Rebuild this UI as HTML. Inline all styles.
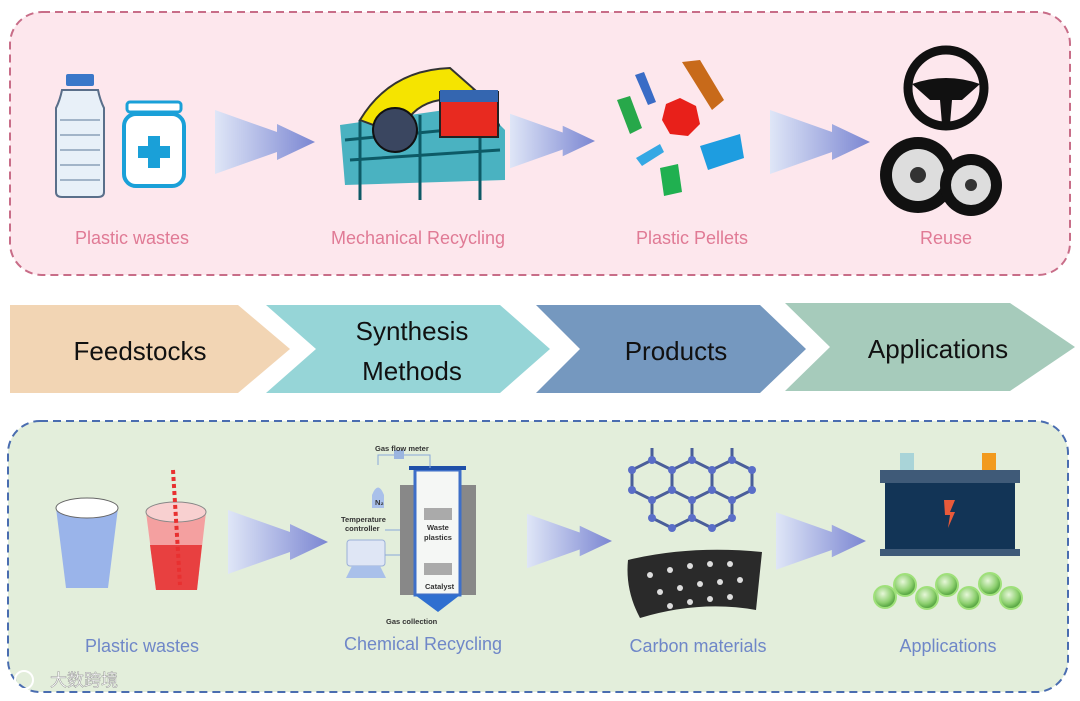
<!DOCTYPE html>
<html><head><meta charset="utf-8"><style>
html,body{margin:0;padding:0;background:#fff;width:1080px;height:701px;overflow:hidden}
svg{display:block}
text{font-family:"Liberation Sans","Noto Sans CJK SC",sans-serif}
</style></head><body>
<svg width="1080" height="701" viewBox="0 0 1080 701" xmlns="http://www.w3.org/2000/svg">
<defs>
<linearGradient id="ag" x1="0" x2="1" y1="0" y2="0"><stop offset="0" stop-color="#dfe6f7"/><stop offset="1" stop-color="#7b86d2"/></linearGradient>
<radialGradient id="ball" cx="0.4" cy="0.35" r="0.6"><stop offset="0" stop-color="#e6f7d8"/><stop offset="0.7" stop-color="#8ccf6e"/><stop offset="1" stop-color="#5aa845"/></radialGradient>
<symbol id="arr" viewBox="0 0 100 64"><path d="M0 0 L62 22 L62 14 L100 32 L62 50 L62 42 L0 64 Z" fill="url(#ag)"/></symbol>
</defs>
<rect x="10" y="12" width="1060" height="263" rx="32" fill="#fde7ed" stroke="#c86d88" stroke-width="2" stroke-dasharray="8,5"/>
<rect x="66" y="74" width="28" height="12" rx="2" fill="#3a78c9"/>
<path d="M62 90 Q60 100 56 108 L56 192 Q56 197 62 197 L98 197 Q104 197 104 192 L104 108 Q100 100 98 90 Z" fill="#e8f0f8" stroke="#5a6f8a" stroke-width="2"/>
<g stroke="#8aa0b8" stroke-width="1.5"><line x1="60" y1="120" x2="100" y2="120"/><line x1="60" y1="135" x2="100" y2="135"/><line x1="60" y1="150" x2="100" y2="150"/><line x1="60" y1="165" x2="100" y2="165"/><line x1="60" y1="180" x2="100" y2="180"/></g>
<rect x="127" y="102" width="54" height="10" rx="3" fill="#fff" stroke="#1aa0d8" stroke-width="3"/>
<rect x="124" y="114" width="60" height="72" rx="12" fill="#fff" stroke="#1aa0d8" stroke-width="4"/>
<path d="M148 136h12v10h10v12h-10v10h-12v-10h-10v-12h10z" fill="#1aa0d8"/>
<text x="132" y="244" font-size="18" fill="#e07a95" text-anchor="middle">Plastic wastes</text>
<use href="#arr" x="215" y="110" width="100" height="64"/>
<g>
<path d="M340 125 L480 105 L505 130 L505 180 L345 185 Z" fill="#2aa8b8" opacity="0.85"/>
<path d="M345 140 L500 125 M350 160 L500 150 M360 120 L360 200 M420 115 L420 200 M480 110 L480 200" stroke="#0d5a66" stroke-width="3" fill="none"/>
<path d="M360 120 Q390 70 450 68 L475 90 L440 100 Q410 105 400 135 Z" fill="#f5e400" stroke="#333" stroke-width="2"/>
<rect x="440" y="92" width="58" height="45" fill="#e82a20" stroke="#222" stroke-width="2"/>
<rect x="440" y="90" width="58" height="12" fill="#3466b0"/>
<circle cx="395" cy="130" r="22" fill="#3a4660" stroke="#111" stroke-width="2"/>
<text x="418" y="244" font-size="18" fill="#e07a95" text-anchor="middle">Mechanical Recycling</text>
</g>
<use href="#arr" x="510" y="112" width="85" height="58"/>
<polygon points="635,75 644,72 656,102 648,105" fill="#3a6cc6"/>
<polygon points="682,62 700,60 724,100 712,110" fill="#c86a1a"/>
<polygon points="617,100 630,96 642,128 630,134" fill="#27a84a"/>
<polygon points="666,104 680,98 696,106 700,124 688,136 670,134 662,120" fill="#e8201a"/>
<polygon points="636,158 660,144 664,152 642,166" fill="#35a8e4"/>
<polygon points="700,146 740,134 744,158 708,170" fill="#1e9de0"/>
<polygon points="660,168 678,164 682,192 664,196" fill="#20b050"/>
<text x="692" y="244" font-size="18" fill="#e07a95" text-anchor="middle">Plastic Pellets</text>
<use href="#arr" x="770" y="110" width="100" height="64"/>
<circle cx="946" cy="88" r="38" fill="none" stroke="#111" stroke-width="9"/>
<path d="M912 84 Q946 72 980 84 L962 100 L952 100 L950 124 L942 124 L940 100 L930 100 Z" fill="#111"/>
<circle cx="918" cy="175" r="38" fill="#111"/><circle cx="918" cy="175" r="26" fill="#ddd"/><circle cx="918" cy="175" r="8" fill="#333"/>
<circle cx="971" cy="185" r="31" fill="#111"/><circle cx="971" cy="185" r="20" fill="#ddd"/><circle cx="971" cy="185" r="6" fill="#333"/>
<text x="946" y="244" font-size="18" fill="#e07a95" text-anchor="middle">Reuse</text>
<polygon points="10,305 238,305 290,349 238,393 10,393" fill="#f2d5b4"/>
<polygon points="266,305 500,305 550,349 500,393 266,393 316,349" fill="#96d5d7"/>
<polygon points="536,305 760,305 806,349 760,393 536,393 580,349" fill="#7598bf"/>
<polygon points="785,303 1010,303 1075,347 1010,391 785,391 830,347" fill="#a6cbbb"/>
<g font-size="26" fill="#111" text-anchor="middle">
<text x="140" y="360">Feedstocks</text>
<text x="412" y="340">Synthesis</text>
<text x="412" y="380">Methods</text>
<text x="676" y="360">Products</text>
<text x="938" y="358">Applications</text>
</g>
<rect x="8" y="421" width="1060" height="271" rx="32" fill="#e3eedb" stroke="#4a6db0" stroke-width="2" stroke-dasharray="8,5"/>
<path d="M56 508 L118 508 L108 588 L66 588 Z" fill="#9ab4ea"/>
<ellipse cx="87" cy="508" rx="31" ry="10" fill="#fff" stroke="#666" stroke-width="1"/>
<path d="M146 512 L206 512 L197 590 L156 590 Z" fill="#f4a0a0"/>
<path d="M150 545 L202 545 L197 590 L156 590 Z" fill="#e84040"/>
<ellipse cx="176" cy="512" rx="30" ry="10" fill="#f8d0d0" stroke="#888"/>
<line x1="173" y1="470" x2="180" y2="585" stroke="#e83030" stroke-width="4" stroke-dasharray="4,3"/>
<text x="142" y="652" font-size="18" fill="#6f87c8" text-anchor="middle">Plastic wastes</text>
<use href="#arr" x="228" y="510" width="100" height="64"/>
<g>
<rect x="400" y="485" width="16" height="110" fill="#888"/><rect x="460" y="485" width="16" height="110" fill="#888"/>
<rect x="415" y="470" width="45" height="125" fill="#f5f7f5" stroke="#3e6fc8" stroke-width="3"/>
<line x1="409" y1="468" x2="466" y2="468" stroke="#1f4fa8" stroke-width="4"/>
<polygon points="415,595 460,595 438,612" fill="#2f6fd0"/>
<rect x="424" y="508" width="28" height="12" fill="#aaa"/><rect x="424" y="563" width="28" height="12" fill="#aaa"/>
<path d="M378 465 L378 455 L430 455 L430 468" stroke="#8aa8d8" fill="none"/><rect x="394" y="450" width="10" height="9" fill="#9bb5e0"/>
<path d="M372 495 Q378 480 384 495 L384 508 L372 508 Z" fill="#a9c0ea"/>
<rect x="347" y="540" width="38" height="26" rx="3" fill="#dfe6f5" stroke="#9bb0d8"/>
<path d="M352 566 L380 566 L386 578 L346 578 Z" fill="#a9c0ea"/>
<line x1="385" y1="530" x2="400" y2="530" stroke="#8aa8d8"/><line x1="385" y1="555" x2="400" y2="555" stroke="#8aa8d8"/>
<g font-size="7.5" font-weight="bold" fill="#333">
<text x="375" y="451">Gas flow meter</text><text x="375" y="505">N₂</text>
<text x="341" y="522">Temperature</text><text x="345" y="531">controller</text>
<text x="427" y="530">Waste</text><text x="424" y="540">plastics</text>
<text x="425" y="589">Catalyst</text><text x="386" y="624">Gas collection</text>
</g>
<text x="423" y="650" font-size="18" fill="#6f87c8" text-anchor="middle">Chemical Recycling</text>
</g>
<use href="#arr" x="527" y="512" width="85" height="58"/>
<g stroke="#4a5e9a" stroke-width="3" fill="none">
<path d="M632 470 L652 460 L672 470 L692 460 L712 470 L732 460 L752 470 M632 470 L632 490 L652 500 L672 490 L692 500 L712 490 L732 500 L752 490 L752 470 M672 470 L672 490 M712 470 L712 490 M652 500 L652 518 L672 528 L692 518 L712 528 L732 518 L732 500 M692 500 L692 518 M652 460 L652 448 M692 460 L692 448 M732 460 L732 448"/>
</g>
<g fill="#5a6ec8"><circle cx="632" cy="470" r="4"/><circle cx="652" cy="460" r="4"/><circle cx="672" cy="470" r="4"/><circle cx="692" cy="460" r="4"/><circle cx="712" cy="470" r="4"/><circle cx="732" cy="460" r="4"/><circle cx="752" cy="470" r="4"/><circle cx="632" cy="490" r="4"/><circle cx="652" cy="500" r="4"/><circle cx="672" cy="490" r="4"/><circle cx="692" cy="500" r="4"/><circle cx="712" cy="490" r="4"/><circle cx="732" cy="500" r="4"/><circle cx="752" cy="490" r="4"/><circle cx="652" cy="518" r="4"/><circle cx="672" cy="528" r="4"/><circle cx="692" cy="518" r="4"/><circle cx="712" cy="528" r="4"/><circle cx="732" cy="518" r="4"/></g>
<path d="M628 560 Q690 545 762 552 L756 610 Q700 600 640 618 Q625 590 628 560 Z" fill="#2a2a2a"/>
<g fill="#ddd"><circle cx="650" cy="575" r="3"/><circle cx="670" cy="570" r="3"/><circle cx="690" cy="566" r="3"/><circle cx="710" cy="564" r="3"/><circle cx="730" cy="564" r="3"/><circle cx="660" cy="592" r="3"/><circle cx="680" cy="588" r="3"/><circle cx="700" cy="584" r="3"/><circle cx="720" cy="582" r="3"/><circle cx="740" cy="580" r="3"/><circle cx="670" cy="606" r="3"/><circle cx="690" cy="602" r="3"/><circle cx="710" cy="599" r="3"/><circle cx="730" cy="597" r="3"/></g>
<text x="698" y="652" font-size="18" fill="#6f87c8" text-anchor="middle">Carbon materials</text>
<use href="#arr" x="776" y="512" width="90" height="58"/>
<rect x="900" y="453" width="14" height="17" fill="#a9d4d8"/><rect x="982" y="453" width="14" height="17" fill="#f29a1e"/>
<rect x="880" y="470" width="140" height="13" fill="#3f5a78"/>
<rect x="885" y="483" width="130" height="66" fill="#123456"/>
<rect x="880" y="549" width="140" height="7" fill="#3f5a78"/>
<polygon points="944,500 955,500 950,512 955,512 948,528 950,515 945,515" fill="#e85a3a"/>
<g fill="url(#ball)" stroke="#9fe07a" stroke-width="2"><circle cx="885" cy="597" r="11"/><circle cx="905" cy="585" r="11"/><circle cx="927" cy="598" r="11"/><circle cx="947" cy="585" r="11"/><circle cx="969" cy="598" r="11"/><circle cx="990" cy="584" r="11"/><circle cx="1011" cy="598" r="11"/></g>
<text x="948" y="652" font-size="18" fill="#6f87c8" text-anchor="middle">Applications</text>
<text x="50" y="686" font-size="17" fill="#fff" stroke="#999" stroke-width="0.5" font-family="Noto Sans CJK SC, sans-serif">大数跨境</text>
<circle cx="24" cy="680" r="9" fill="none" stroke="#fff" stroke-width="2"/>
</svg>
</body></html>
